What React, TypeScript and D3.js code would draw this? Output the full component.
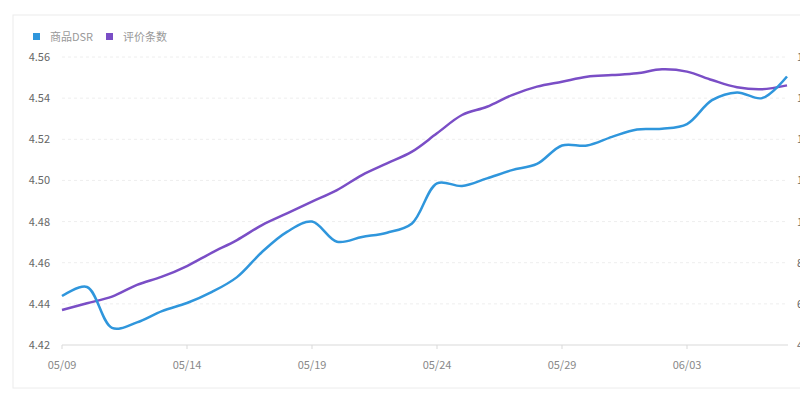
import * as d3 from "d3";

const dates = [
  "05/09", "05/10", "05/11", "05/12", "05/13", "05/14", "05/15", "05/16", "05/17", "05/18",
  "05/19", "05/20", "05/21", "05/22", "05/23", "05/24", "05/25", "05/26", "05/27", "05/28",
  "05/29", "05/30", "05/31", "06/01", "06/02", "06/03", "06/04", "06/05", "06/06", "06/07",
];
const tickDates = ["05/09", "05/14", "05/19", "05/24", "05/29", "06/03"];

// 商品DSR (left axis)
const dsr = [
  4.4438, 4.4482, 4.4283, 4.431, 4.4365, 4.4404, 4.4458, 4.453, 4.4652, 4.475,
  4.48, 4.4702, 4.4725, 4.4746, 4.4791, 4.4986, 4.4973, 4.501, 4.505, 4.508,
  4.517, 4.517, 4.5212, 4.5248, 4.5251, 4.5274, 4.539, 4.5428, 4.54, 4.5505,
];
// 评价条数 (right axis)
const reviews = [
  570, 603, 635, 692, 732, 784, 849, 910, 983, 1040,
  1097, 1153, 1226, 1283, 1340, 1429, 1518, 1558, 1615, 1656,
  1680, 1704, 1712, 1721, 1740, 1729, 1688, 1653, 1643, 1662,
];

const leftTicks = [4.42, 4.44, 4.46, 4.48, 4.5, 4.52, 4.54, 4.56];
const rightTicks = [400, 600, 800, 1000, 1200, 1400, 1600, 1800];

const seriesNames = ["商品DSR", "评价条数"];
const colors = ["#2f96dc", "#7a4ec6"];

const W = 800;
const H = 401;
const plot = { left: 62, right: 787, top: 57, bottom: 345 };

export default function App() {
  const x = d3.scalePoint().domain(dates).range([plot.left, plot.right]);
  const yL = d3.scaleLinear().domain([4.42, 4.56]).range([plot.bottom, plot.top]);
  const yR = d3.scaleLinear().domain([400, 1800]).range([plot.bottom, plot.top]);

  const curve = d3.curveCatmullRom.alpha(0.5);
  const dsrLine = d3.line<number>().x((_, i) => x(dates[i])!).y((d) => yL(d)).curve(curve);
  const revLine = d3.line<number>().x((_, i) => x(dates[i])!).y((d) => yR(d)).curve(curve);

  const font = "'Noto Sans CJK SC', 'Noto Sans', sans-serif";

  return (
    <svg width={W} height={H} style={{ position: "absolute", left: 0, top: 0 }} fontFamily={font}>
      <rect x={0} y={0} width={W} height={H} fill="#fff" />
      <rect x={13} y={15} width={W + 20} height={373} fill="#fff" stroke="#ececec" />

      {/* legend */}
      {seriesNames.map((n, i) => {
        const lx = i === 0 ? 33 : 106;
        return (
          <g key={n}>
            <rect x={lx} y={33} width={7} height={7} fill={colors[i]} />
            <text x={lx + 17} y={41} fontSize={11} fill="#999">{n}</text>
          </g>
        );
      })}

      {/* grid */}
      {leftTicks.slice(1).map((t) => (
        <line key={t} x1={plot.left} x2={plot.right} y1={yL(t)} y2={yL(t)} stroke="#eeeeee" strokeDasharray="3,3" />
      ))}

      {/* left axis labels */}
      {leftTicks.map((t) => (
        <text key={t} x={50} y={yL(t) + 4} fontSize={11} fill="#666" textAnchor="end">
          {t.toFixed(2)}
        </text>
      ))}

      {/* right axis labels, mostly cut off by the window edge */}
      {rightTicks.map((t) => (
        <text key={t} x={797} y={yR(t) + 4} fontSize={11} fill="#666">
          {d3.format(",")(t)}
        </text>
      ))}

      {/* x axis */}
      <line x1={plot.left} x2={plot.right + 1} y1={plot.bottom} y2={plot.bottom} stroke="#d9d9d9" />
      {tickDates.map((d) => (
        <g key={d}>
          <line x1={x(d)} x2={x(d)} y1={plot.bottom} y2={plot.bottom + 4} stroke="#d9d9d9" />
          <text x={x(d)} y={plot.bottom + 24} fontSize={11} fill="#888" textAnchor="middle">{d}</text>
        </g>
      ))}

      <path d={revLine(reviews)!} fill="none" stroke={colors[1]} strokeWidth={2.5} />
      <path d={dsrLine(dsr)!} fill="none" stroke={colors[0]} strokeWidth={2.5} />
    </svg>
  );
}
